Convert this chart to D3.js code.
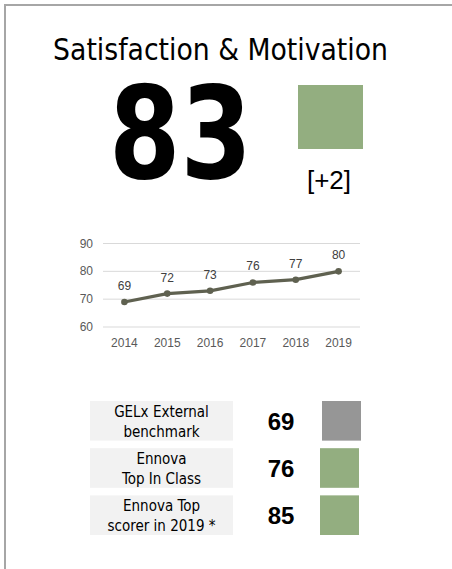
<!DOCTYPE html>
<html lang="en">
<head>
<meta charset="UTF-8">
<title>Satisfaction & Motivation</title>
<script src="https://d3js.org/d3.v7.min.js"></script>
<style>
    body { margin: 0; background: #fff; }
    svg { display: block; }
</style>
</head>
<body>
<script>
    // data
    const title = "Satisfaction & Motivation";
    const headline = 83;
    const change = "[+2]";
    const years = ["2014", "2015", "2016", "2017", "2018", "2019"];
    const scores = [69, 72, 73, 76, 77, 80];
    const yTicks = [60, 70, 80, 90];
    const benchLabels = [["GELx External", "benchmark"], ["Ennova", "Top In Class"], ["Ennova Top", "scorer in 2019 *"]];
    const benchValues = [69, 76, 85];
    const benchStatus = ["neutral", "good", "good"];

    const width = 452, height = 569;
    const labelFont = "'DejaVu Sans Condensed', 'DejaVu Sans', sans-serif";
    const green = "#93ae80";

    const svg = d3.select("body").append("svg")
        .attr("width", width)
        .attr("height", height);

    // frame (top + left edge only)
    svg.append("path")
        .attr("d", "M5,569V5H452")
        .attr("fill", "none")
        .attr("stroke", "#a6a6a6")
        .attr("stroke-width", 2);

    // title, fitted to its width in the reference
    const t = svg.append("text")
        .attr("x", 220.5).attr("y", 60)
        .attr("text-anchor", "middle")
        .style("font-family", labelFont)
        .style("font-size", "30px")
        .attr("fill", "#000")
        .text(title);
    const tw = t.node().getComputedTextLength();
    t.style("font-size", (30 * 335 / tw) + "px");

    // big number
    svg.append("text")
        .attr("x", 109).attr("y", 178)
        .attr("textLength", 143)
        .attr("lengthAdjust", "spacingAndGlyphs")
        .style("font-family", "'DejaVu Sans', sans-serif")
        .style("font-weight", "bold")
        .style("font-size", "128px")
        .attr("fill", "#000")
        .text(headline);

    svg.append("rect")
        .attr("x", 298).attr("y", 85)
        .attr("width", 65).attr("height", 64)
        .attr("fill", green);

    svg.append("text")
        .attr("x", 329).attr("y", 189)
        .attr("text-anchor", "middle")
        .style("font-family", "'Liberation Sans', Arial, sans-serif")
        .style("font-size", "26px")
        .attr("fill", "#000")
        .text(change);

    // trend line chart
    const x = d3.scaleBand().domain(years).range([103, 360]);
    const y = d3.scaleLinear().domain([60, 90]).range([327, 243.5]);
    const chartFont = "'Liberation Sans', Arial, sans-serif";

    svg.append("g").selectAll("line")
        .data(yTicks)
        .join("line")
        .attr("x1", 103).attr("x2", 360)
        .attr("y1", d => y(d)).attr("y2", d => y(d))
        .attr("stroke", "#d9d9d9")
        .attr("stroke-width", 1);

    svg.append("g").selectAll("text")
        .data(yTicks)
        .join("text")
        .attr("x", 93).attr("y", d => y(d) + 4)
        .attr("text-anchor", "end")
        .style("font-family", chartFont)
        .style("font-size", "12px")
        .attr("fill", "#595959")
        .text(d => d);

    svg.append("g").selectAll("text")
        .data(years)
        .join("text")
        .attr("x", d => x(d) + x.bandwidth() / 2).attr("y", 347)
        .attr("text-anchor", "middle")
        .style("font-family", chartFont)
        .style("font-size", "12px")
        .attr("fill", "#595959")
        .text(d => d);

    const pts = years.map((yr, i) => [x(yr) + x.bandwidth() / 2, y(scores[i])]);

    svg.append("path")
        .attr("d", d3.line()(pts))
        .attr("fill", "none")
        .attr("stroke", "#5f6150")
        .attr("stroke-width", 3.2)
        .attr("stroke-linejoin", "round");

    svg.append("g").selectAll("circle")
        .data(pts)
        .join("circle")
        .attr("cx", d => d[0]).attr("cy", d => d[1])
        .attr("r", 3.3)
        .attr("fill", "#5f6150");

    svg.append("g").selectAll("text")
        .data(scores)
        .join("text")
        .attr("x", (d, i) => pts[i][0]).attr("y", (d, i) => pts[i][1] - 12)
        .attr("text-anchor", "middle")
        .style("font-family", chartFont)
        .style("font-size", "12px")
        .attr("fill", "#404040")
        .text(d => d);

    // benchmark table
    const rows = d3.scaleBand().domain(d3.range(benchValues.length)).range([401, 535]).paddingInner(0.16);
    const status = d3.scaleOrdinal().domain(["neutral", "good"]).range(["#969696", green]);

    const row = svg.append("g").selectAll("g")
        .data(benchValues)
        .join("g")
        .attr("transform", (d, i) => `translate(0,${rows(i)})`);

    row.append("rect")
        .attr("x", 90).attr("width", 143)
        .attr("height", rows.bandwidth())
        .attr("fill", "#f2f2f2");

    row.append("text")
        .attr("x", 161.5)
        .attr("text-anchor", "middle")
        .style("font-family", labelFont)
        .style("font-size", "15px")
        .attr("fill", "#000")
        .selectAll("tspan")
        .data((d, i) => benchLabels[i])
        .join("tspan")
        .attr("x", 161.5)
        .attr("y", (d, j) => 16 + j * 20)
        .text(d => d);

    row.append("text")
        .attr("x", 281).attr("y", 29)
        .attr("text-anchor", "middle")
        .style("font-family", "'Liberation Sans', Arial, sans-serif")
        .style("font-weight", "bold")
        .style("font-size", "24px")
        .attr("fill", "#000")
        .text(d => d);

    row.append("rect")
        .attr("x", (d, i) => i === 0 ? 322 : 320)
        .attr("width", 39)
        .attr("height", rows.bandwidth())
        .attr("fill", (d, i) => status(benchStatus[i]));
</script>
</body>
</html>
